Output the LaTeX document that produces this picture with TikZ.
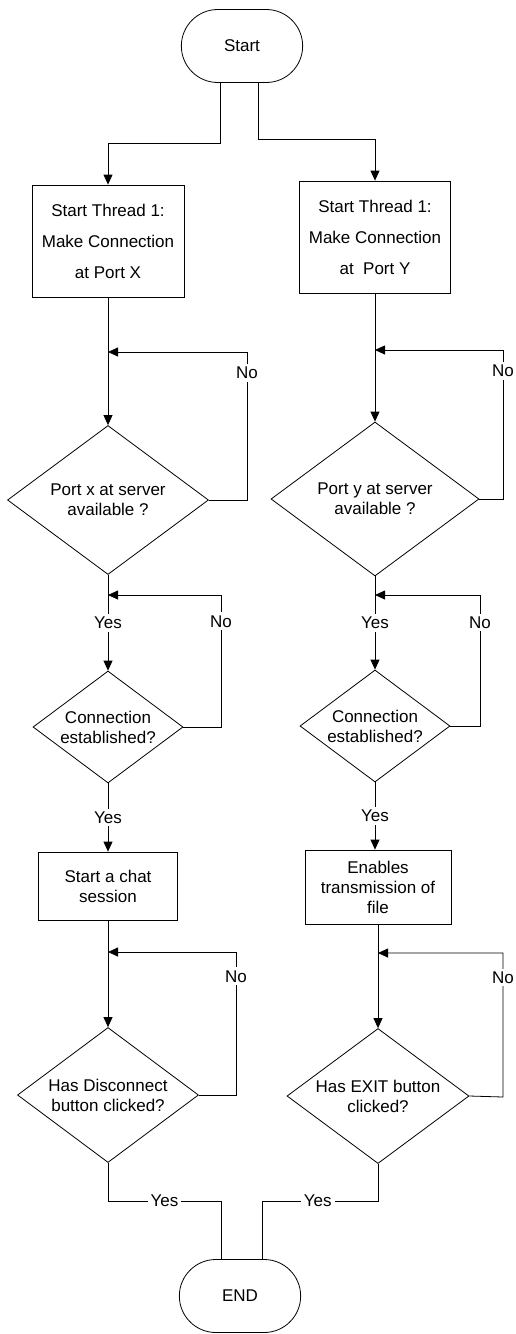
\documentclass[tikz,border=0pt]{standalone}
\usepackage{fontspec}
\setmainfont{Liberation Sans}
\usetikzlibrary{shapes.geometric,shapes.misc,arrows.meta}

\begin{document}
\begin{tikzpicture}[x=1pt, y=-1pt, line width=0.8pt,
        font=\fontsize{17}{20}\selectfont,
        term/.style={draw, rounded rectangle, minimum width=128pt, minimum height=73pt},
        proc/.style={draw, rectangle, align=center, inner sep=0pt},
        decide/.style={draw, diamond, aspect=1.4, align=center, inner sep=0pt},
        lbl/.style={fill=white, inner sep=3pt},
        arr/.style={-{Triangle[length=10pt,width=9pt]}}]
        \useasboundingbox (0,0) rectangle (516,1334);

        % terminals
        \node[term] (start) at (242,46) {Start};
        \node[term] (end) at (240,1296) {END};

        % left thread
        \node[proc, minimum width=152pt, minimum height=112pt, font=\fontsize{17}{31}\selectfont] (b1) at (108,241) {Start Thread 1:\\Make Connection\\at Port X};
        \node[decide, minimum width=201pt, minimum height=149pt] (d1) at (108,500) {Port x at server\\available ?};
        \node[decide, minimum width=150pt, minimum height=112pt] (d3) at (108,727) {Connection\\established?};
        \node[proc, minimum width=139pt, minimum height=68pt] (b3) at (108,886) {Start a chat\\session};
        \node[decide, minimum width=181pt, minimum height=135pt] (d5) at (108,1095) {Has Disconnect\\button clicked?};

        % right thread
        \node[proc, minimum width=151pt, minimum height=112pt, font=\fontsize{17}{31}\selectfont] (b2) at (375,237) {Start Thread 1:\\Make Connection\\at~ Port Y};
        \node[decide, minimum width=208pt, minimum height=154pt] (d2) at (375,499) {Port y at server\\available ?};
        \node[decide, minimum width=150pt, minimum height=112pt] (d4) at (375,726) {Connection\\established?};
        \node[proc, minimum width=146pt, minimum height=74pt] (b4) at (378,887) {Enables\\transmission of\\file};
        \node[decide, minimum width=182pt, minimum height=135pt] (d6) at (378,1096) {Has EXIT button\\clicked?};

        % loop joints
        \coordinate (j1) at (108,352);
        \coordinate (j2) at (108,595);
        \coordinate (j3) at (108,952);
        \coordinate (j4) at (375,350);
        \coordinate (j5) at (375,595);
        \coordinate (j6) at (378,953);

        % start to both threads
        \draw[arr] ([xshift=-22pt]start.south) -- ++(0,60) -| (b1.north);
        \draw[arr] ([xshift=16pt]start.south) -- ++(0,56) -| (b2.north);

        % left flow
        \draw[arr] (b1) -- (d1);
        \draw[arr] (d1.east) -- (247,500) -- node[lbl, pos=0.86]{No} (247,352) -- (j1);
        \draw[arr] (d1) -- node[lbl]{Yes} (d3);
        \draw[arr] (d3.east) -- (221,727) -- node[lbl, pos=0.8]{No} (221,595) -- (j2);
        \draw[arr] (d3) -- node[lbl]{Yes} (b3);
        \draw[arr] (b3) -- (d5);
        \draw[arr] (d5.east) -- (236,1095) -- node[lbl, pos=0.83]{No} (236,952) -- (j3);
        \draw (d5.south) |- node[lbl, pos=0.75]{Yes} (221,1201) -- ([xshift=-19pt]end.north);

        % right flow
        \draw[arr] (b2) -- (d2);
        \draw[arr] (d2.east) -- (503,499) -- node[lbl, pos=0.86]{No} (503,350) -- (j4);
        \draw[arr] (d2) -- node[lbl]{Yes} (d4);
        \draw[arr] (d4.east) -- (480,726) -- node[lbl, pos=0.79]{No} (480,595) -- (j5);
        \draw[arr] (d4.south) -- node[lbl]{Yes} (d4.south |- b4.north);
        \draw[arr] (b4) -- (d6);
        \draw[arr] (d6.east) -- (503,1097) -- node[lbl, pos=0.83]{No} (503,953) -- (j6);
        \draw (d6.south) |- node[lbl, pos=0.76]{Yes} (262,1201) -- ([xshift=22pt]end.north);
\end{tikzpicture}
\end{document}
